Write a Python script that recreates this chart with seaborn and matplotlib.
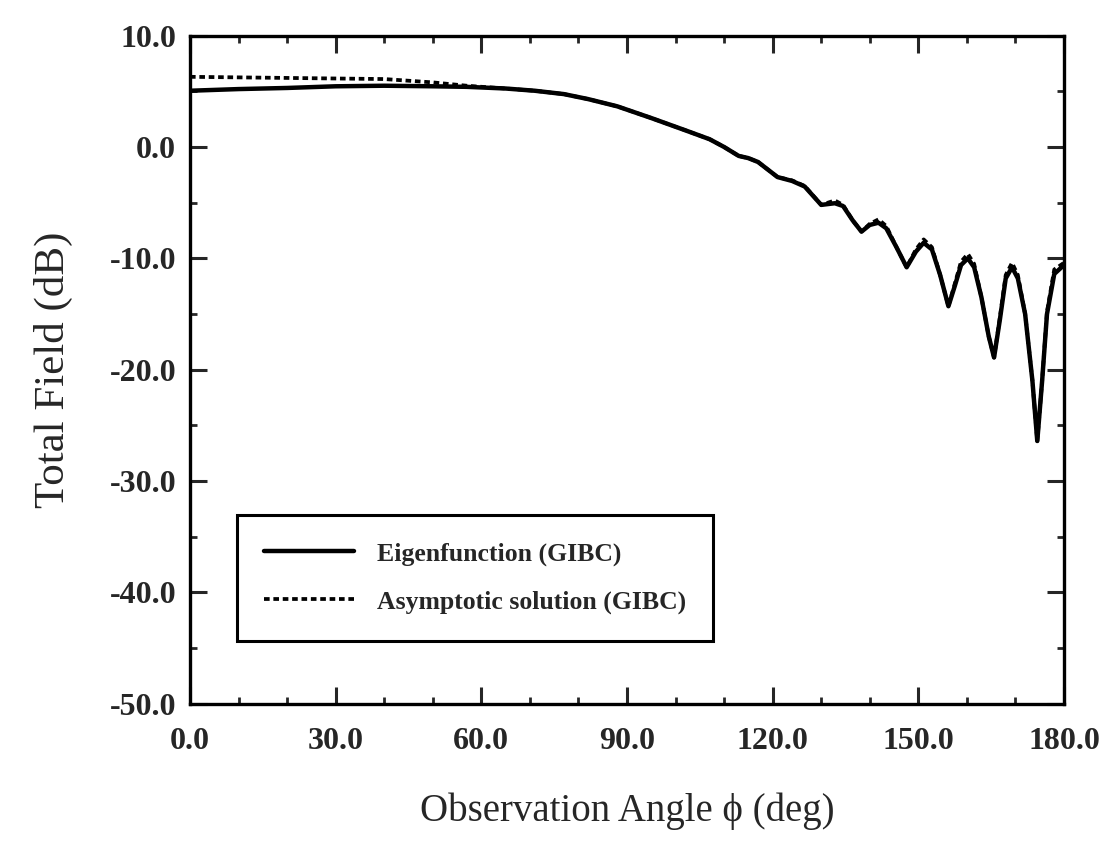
import numpy as np
import pandas as pd
import matplotlib
matplotlib.use("Agg")
import matplotlib.pyplot as plt
import seaborn as sns
from matplotlib.ticker import MultipleLocator

# ---- data ----
angle_eig = [0, 10, 20, 30, 40, 50, 57, 65, 71, 77, 82, 88, 95, 102, 107, 110,
             113, 115, 117, 121, 124, 126.6, 130, 132.8, 134.5, 136.5, 138.3,
             140, 141.8, 143.4, 145.5, 147.6, 149.5, 151.1, 152.8, 154.5,
             156.2, 157.5, 158.8, 160.2, 161.5, 163, 164.5, 165.6, 166.8, 168,
             169.3, 170.5, 172, 173.5, 174.5, 175.5, 176.5, 178, 180]
field_eig = [5.05, 5.2, 5.3, 5.45, 5.5, 5.45, 5.4, 5.25, 5.05, 4.75, 4.3, 3.65,
             2.6, 1.5, 0.7, 0.0, -0.8, -1.0, -1.35, -2.7, -3.05, -3.55, -5.2,
             -5.05, -5.3, -6.6, -7.6, -7.0, -6.8, -7.3, -9.0, -10.8, -9.4,
             -8.6, -9.2, -11.5, -14.3, -12.5, -10.6, -10.0, -10.8, -13.5,
             -17.0, -18.9, -15.5, -11.8, -10.8, -11.8, -15.0, -21.0, -26.4,
             -21.0, -15.0, -11.4, -10.6]

angle_asy = angle_eig
field_asy = [6.3, 6.25, 6.2, 6.15, 6.1, 5.8, 5.5, 5.25, 5.05, 4.75, 4.3, 3.65,
             2.6, 1.5, 0.7, 0.0, -0.8, -1.0, -1.35, -2.7, -3.0, -3.5, -5.2,
             -4.8, -5.2, -6.6, -7.6, -6.9, -6.5, -7.1, -9.0, -10.8, -9.2,
             -8.3, -9.0, -11.5, -14.3, -12.3, -10.3, -9.6, -10.5, -13.5,
             -17.0, -18.9, -15.3, -11.5, -10.4, -11.5, -15.0, -21.0, -26.4,
             -21.0, -14.8, -11.0, -10.4]

x_ticks = [0, 30, 60, 90, 120, 150, 180]
y_ticks = [10, 0, -10, -20, -30, -40, -50]
label_eig = "Eigenfunction (GIBC)"
label_asy = "Asymptotic solution (GIBC)"

# ---- style ----
sns.set_style("ticks")
plt.rcParams["font.family"] = ["Liberation Serif", "DejaVu Serif"]

fig = plt.figure(figsize=(11.02, 8.48), dpi=100)
ax = fig.add_axes([0.1724, 0.170, 0.7931, 0.788])

df_eig = pd.DataFrame({"angle": angle_eig, "field": field_eig})
df_asy = pd.DataFrame({"angle": angle_asy, "field": field_asy})

sns.lineplot(data=df_asy, x="angle", y="field", ax=ax, color="black",
             linewidth=2.7, label=label_asy, sort=False)
sns.lineplot(data=df_eig, x="angle", y="field", ax=ax, color="black",
             linewidth=3.2, label=label_eig, sort=False)
ax.lines[0].set_dashes((1.5, 1.0))

ax.set_xlim(0, 180)
ax.set_ylim(-50, 10)
ax.set_xticks(x_ticks)
ax.set_yticks(y_ticks)
ax.set_xticklabels([f"{v:.1f}" for v in x_ticks])
ax.set_yticklabels([f"{v:.1f}" for v in y_ticks])
ax.xaxis.set_minor_locator(MultipleLocator(10))
ax.yaxis.set_minor_locator(MultipleLocator(5))
ax.tick_params(which="major", direction="in", length=12, width=2.2,
               top=True, right=True, labelsize=23)
ax.tick_params(axis="x", which="major", pad=17)
ax.tick_params(axis="y", which="major", pad=10)
ax.tick_params(which="minor", direction="in", length=5, width=2.0,
               top=True, right=True)
for lab in ax.get_xticklabels() + ax.get_yticklabels():
    lab.set_fontweight("bold")
for sp in ax.spines.values():
    sp.set_linewidth(2.4)
    sp.set_color("black")

ax.set_xlabel("Observation Angle \u03d5 (deg)", fontsize=28, labelpad=26)
ax.set_ylabel("Total Field (dB)", fontsize=31, labelpad=26)

handles, labels = ax.get_legend_handles_labels()
order = [labels.index(label_eig), labels.index(label_asy)]
leg = ax.legend([handles[i] for i in order], [labels[i] for i in order],
                loc="upper left", bbox_to_anchor=(0.054, 0.282),
                borderaxespad=0, fancybox=False, framealpha=1,
                edgecolor="black", handlelength=3.5, handletextpad=0.9,
                borderpad=1.05, labelspacing=0.95,
                prop={"size": 18.5, "weight": "bold"})
leg.get_frame().set_linewidth(2.2)
leg.get_lines()[1].set_dashes((1.5, 1.0))

fig.savefig("out.png", dpi=100)
